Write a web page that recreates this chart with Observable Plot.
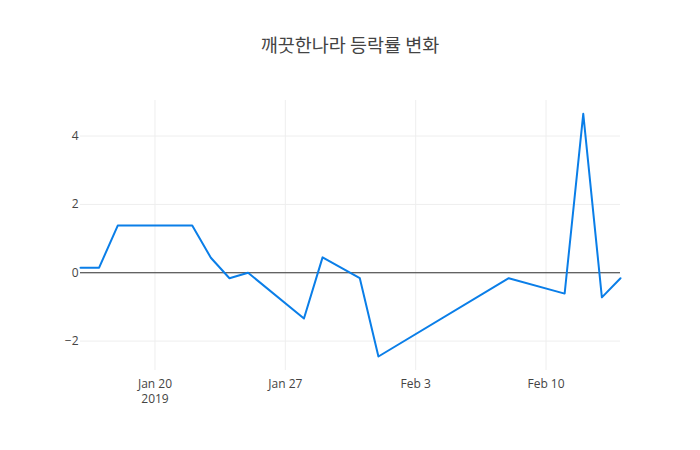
<!DOCTYPE html>
<html><head><meta charset="utf-8">
<script src="https://cdn.jsdelivr.net/npm/d3@7"></script>
<script src="https://cdn.jsdelivr.net/npm/@observablehq/plot@0.6"></script>
<style>
body{margin:0;background:#fff;}
#wrap{position:relative;width:700px;height:450px;font-family:"Open Sans","Noto Sans CJK KR",sans-serif;}
#title{position:absolute;left:0;top:31px;width:700px;text-align:center;font-size:18.5px;color:#444;font-family:"Noto Sans CJK KR","Open Sans",sans-serif;}
</style></head>
<body>
<div id="wrap"><div id="title">깨끗한나라 등락률 변화</div><div id="chart"></div></div>
<script>
const dates = ["2019-01-16","2019-01-17","2019-01-18","2019-01-21","2019-01-22","2019-01-23","2019-01-24","2019-01-25","2019-01-28","2019-01-29","2019-01-31","2019-02-01","2019-02-08","2019-02-11","2019-02-12","2019-02-13","2019-02-14"];
const changes = [0.15,0.15,1.38,1.38,1.38,0.44,-0.16,0,-1.34,0.45,-0.16,-2.45,-0.16,-0.61,4.65,-0.72,-0.16];
const xTicks = ["2019-01-20","2019-01-27","2019-02-03","2019-02-10"];
const xTickLabels = ["Jan 20\n2019","Jan 27","Feb 3","Feb 10"];
const yTicks = [-2,0,2,4];

const data = dates.map((d,i)=>({date:new Date(d+"T00:00:00"), value:changes[i]}));
const xt = xTicks.map(d=>new Date(d+"T00:00:00"));
const fmtY = v => v < 0 ? "\u2212" + Math.abs(v) : String(v);

const chart = Plot.plot({
  width:700, height:450,
  marginLeft:80, marginRight:80, marginTop:100, marginBottom:80,
  style:{fontFamily:"'Open Sans', sans-serif", fontSize:"12px", color:"#444", background:"transparent"},
  x:{type:"time", domain:[data[0].date, data[data.length-1].date]},
  y:{domain:[-2.86,5.04]},
  marks:[
    Plot.gridX(xt,{stroke:"#eee", strokeOpacity:1, strokeWidth:1}),
    Plot.gridY(yTicks,{stroke:"#eee", strokeOpacity:1, strokeWidth:1}),
    Plot.ruleY([0],{stroke:"#333", strokeWidth:1.2}),
    Plot.axisX(xt,{tickSize:0, tickPadding:6, fontSize:12, fill:"#444", lineHeight:1.3,
      tickFormat:(d,i)=>xTickLabels[xt.findIndex(t=>+t===+d)], label:null}),
    Plot.axisY(yTicks,{tickSize:0, tickPadding:2, fontSize:12, fill:"#444", tickFormat:fmtY, label:null}),
    Plot.line(data,{x:"date", y:"value", stroke:"#0a7ee8", strokeWidth:2, curve:"linear"})
  ]
});
document.getElementById("chart").appendChild(chart);
</script>
</body></html>
